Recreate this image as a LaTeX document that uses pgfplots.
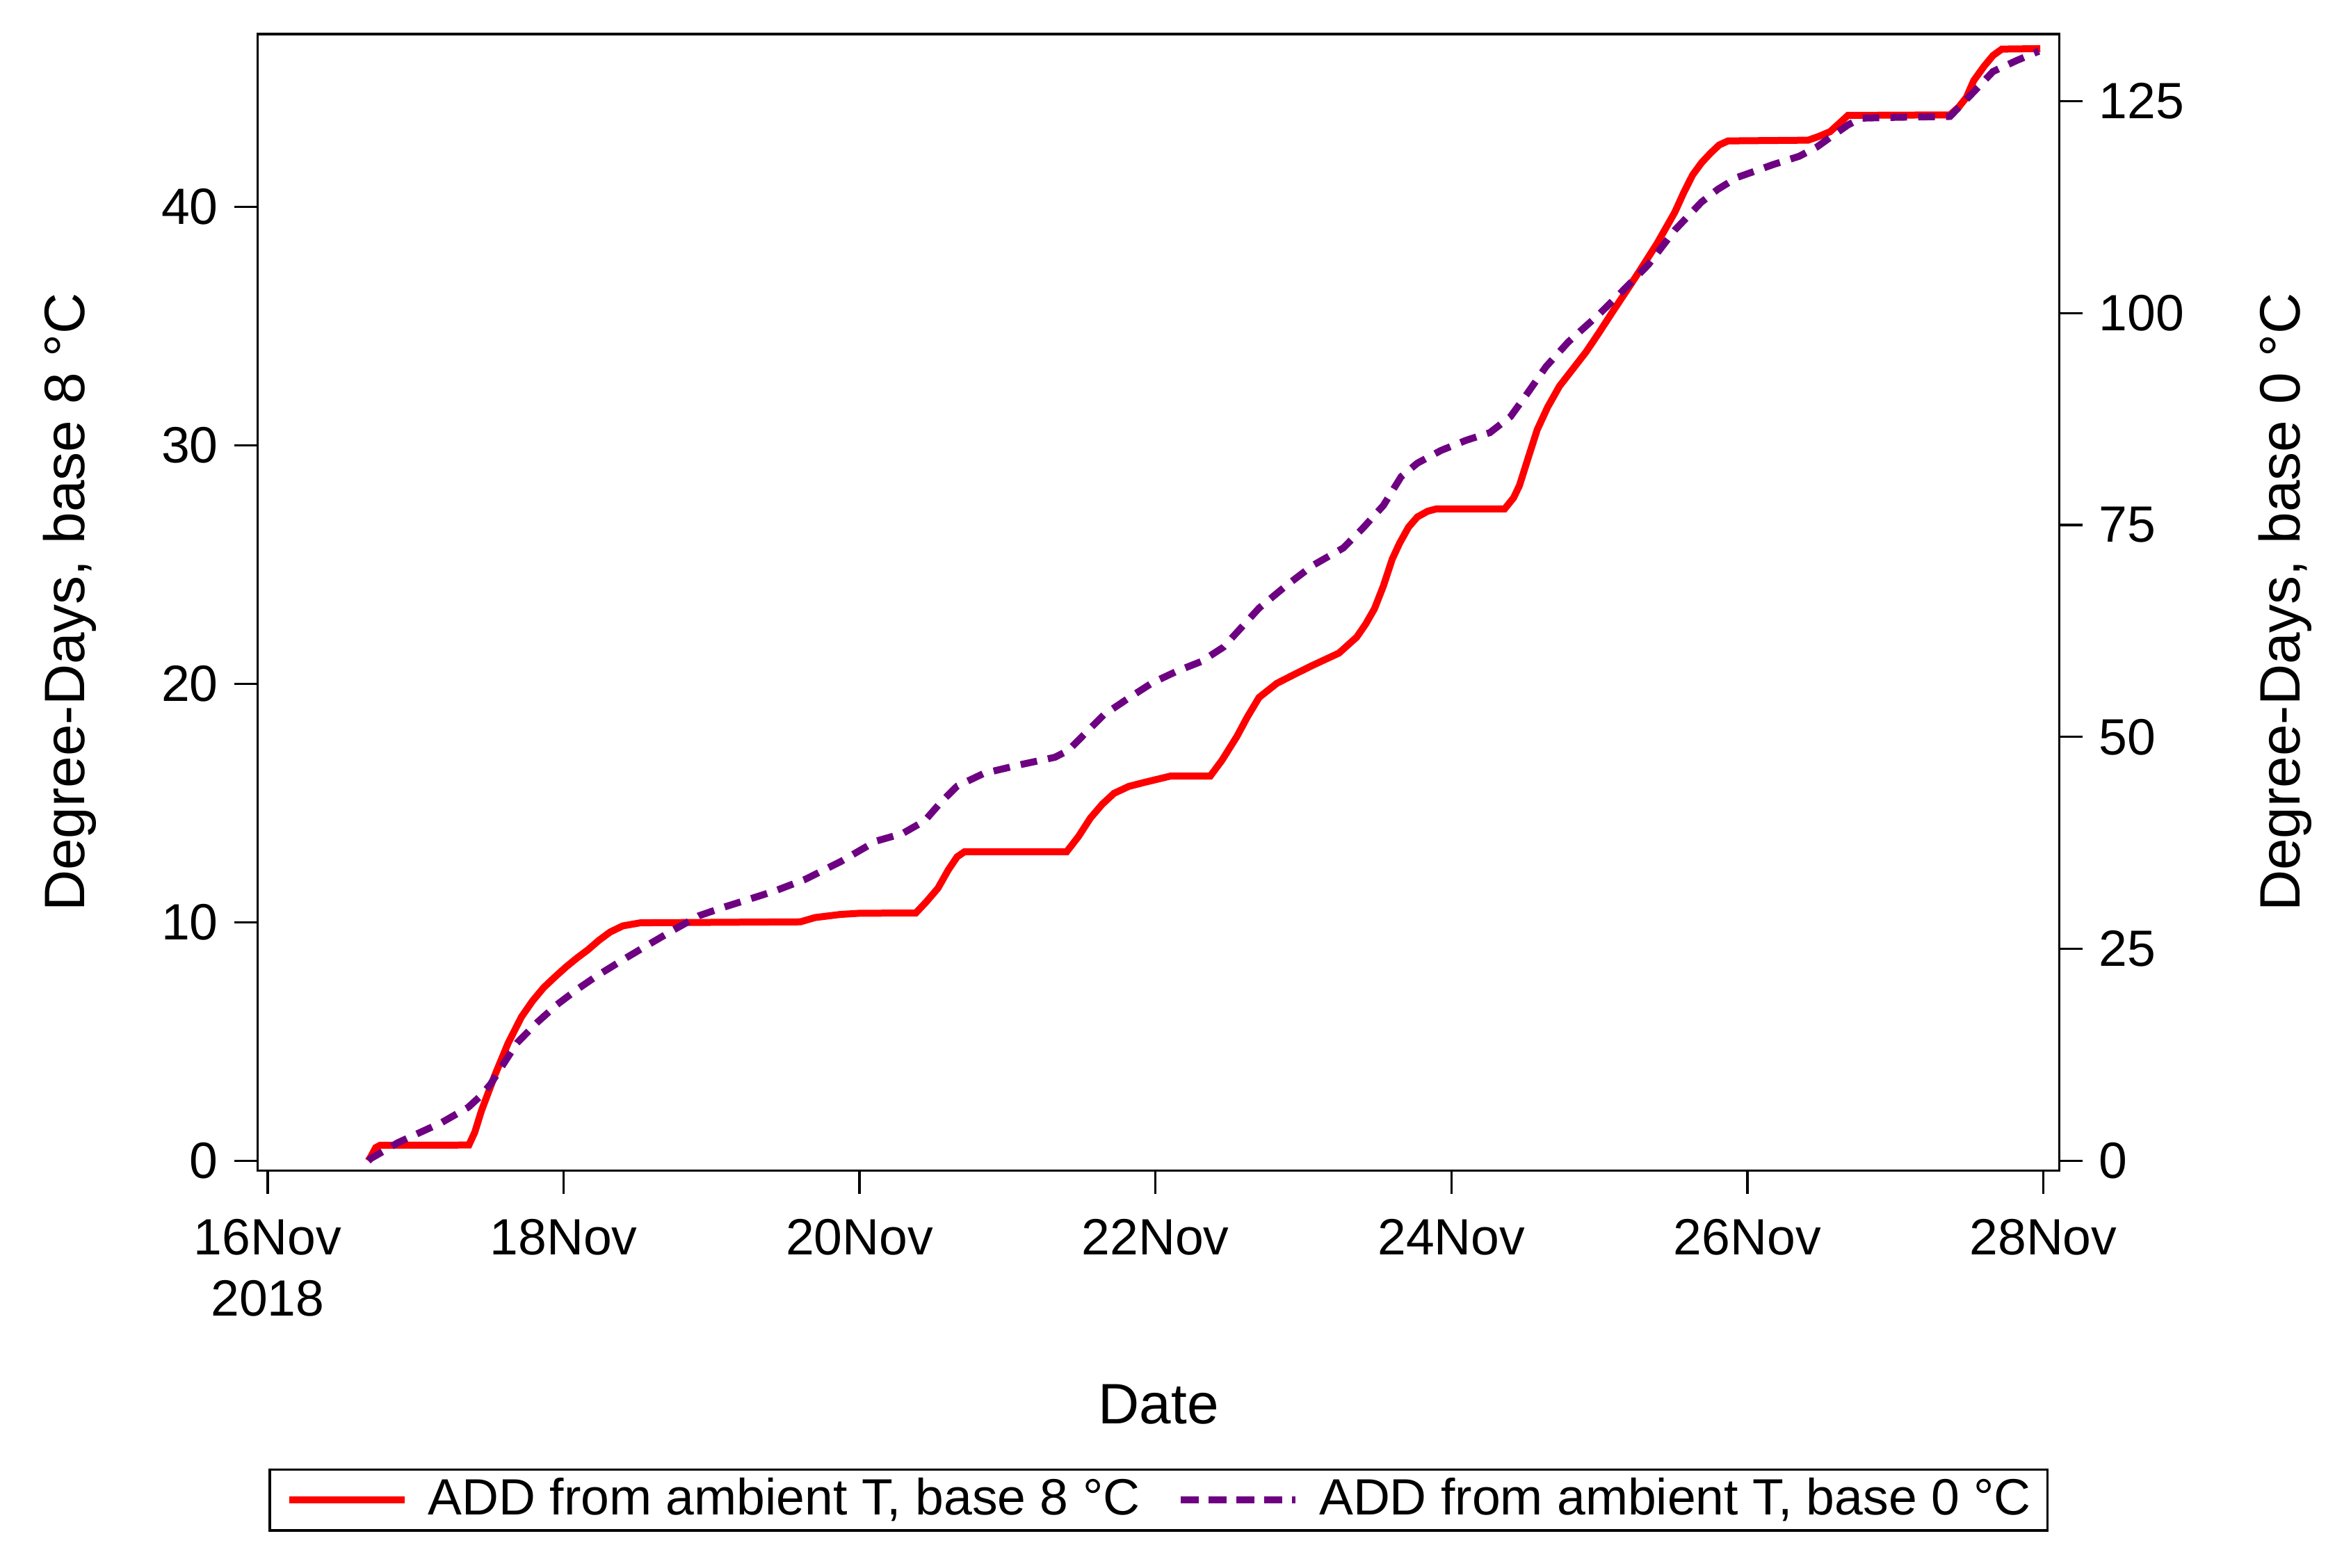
\documentclass[border=0pt]{standalone}
\usepackage{pgfplots}
\pgfplotsset{compat=1.18}
\usepackage{pgfplotstable}
\usepackage{fontspec}
\setmainfont{Liberation Sans}
\definecolor{ddpurple}{RGB}{110,0,130}
\definecolor{ddred}{RGB}{255,0,0}

% ADD, base 8 C (left axis)
\pgfplotstableread{
day val
16.68 0
16.70 0.2
16.73 0.55
16.76 0.65
17.36 0.66
17.40 1.2
17.445 2.1
17.535 3.58
17.625 4.93
17.715 6.03
17.79 6.7
17.865 7.26
17.94 7.7
18.015 8.12
18.09 8.5
18.165 8.85
18.24 9.25
18.314 9.59
18.40 9.85
18.52 9.98
19.60 10.02
19.70 10.2
19.87 10.33
20.00 10.38
20.38 10.39
20.45 10.85
20.53 11.43
20.60 12.2
20.66 12.75
20.71 12.96
21.40 12.96
21.48 13.6
21.56 14.37
21.64 14.95
21.72 15.41
21.82 15.7
21.92 15.86
22.10 16.13
22.37 16.13
22.45 16.8
22.55 17.79
22.62 18.6
22.70 19.43
22.82 20.02
22.94 20.4
23.06 20.77
23.24 21.29
23.36 21.96
23.42 22.5
23.48 23.15
23.54 24.1
23.60 25.23
23.65 25.9
23.71 26.57
23.77 27.0
23.84 27.24
23.90 27.34
24.36 27.34
24.42 27.8
24.46 28.32
24.52 29.5
24.58 30.66
24.65 31.6
24.73 32.48
24.82 33.2
24.91 33.92
25.00 34.75
25.09 35.61
25.18 36.45
25.27 37.3
25.39 38.47
25.51 39.78
25.57 40.6
25.63 41.34
25.69 41.85
25.75 42.25
25.81 42.6
25.87 42.77
26.41 42.8
26.48 42.95
26.56 43.16
26.62 43.5
26.68 43.84
27.37 43.86
27.43 44.2
27.48 44.59
27.53 45.3
27.60 45.9
27.66 46.35
27.72 46.62
27.98 46.64
}\redtab

% ADD, base 0 C (right axis)
\pgfplotstableread{
day val
16.68 0
16.70 0.3
16.80 1.3
16.876 2.1
17.00 3.1
17.175 4.5
17.355 6.3
17.43 7.5
17.505 9.0
17.60 11.6
17.685 13.9
17.82 16.3
17.954 18.4
18.09 20.2
18.224 21.8
18.40 23.7
18.554 25.3
18.73 27.1
18.914 28.9
19.08 29.9
19.244 30.8
19.423 31.8
19.633 33.2
19.873 35.3
20.11 37.7
20.29 38.6
20.44 40.1
20.55 42.3
20.66 44.2
20.84 45.7
21.08 46.7
21.32 47.6
21.41 48.4
21.53 50.5
21.65 52.6
21.82 54.6
21.98 56.4
22.15 57.8
22.31 58.9
22.46 60.6
22.58 62.9
22.70 65.2
22.88 67.8
23.06 70.2
23.27 72.3
23.40 74.6
23.54 77.3
23.66 80.7
23.77 82.3
23.93 83.8
24.10 85.0
24.26 85.9
24.40 87.8
24.52 90.7
24.64 93.7
24.79 96.6
25.00 99.9
25.15 102.5
25.33 105.7
25.51 109.8
25.69 113.1
25.80 114.6
25.93 116.0
26.06 116.8
26.17 117.5
26.35 118.5
26.47 119.6
26.59 121.1
26.68 122.2
26.77 123.0
27.00 123.1
27.37 123.2
27.48 125.2
27.53 126.1
27.66 128.5
27.82 129.8
27.97 130.9
}\purpletab

\begin{document}
\begin{tikzpicture}
\path[use as bounding box] (0,0) rectangle (507.15pt,338.1pt);
\pgfplotsset{
  common/.style={
    at={(55.6pt,85.6pt)}, anchor=south west,
    scale only axis, width=388.65pt, height=245.15pt,
    xmin=15.933, xmax=28.109,
    /pgf/number format/assume math mode=true,
    tick align=outside, major tick length=5pt,
    every tick/.style={black, line width=0.5pt},
    axis line style={black, line width=0.5pt},
    ticklabel style={font=\fontsize{11}{13.2}\selectfont},
    every axis y label/.style={rotate=90, anchor=base, font=\fontsize{12.3}{14.5}\selectfont},
    every axis x label/.style={anchor=base, font=\fontsize{12.3}{14.5}\selectfont},
  }
}
\begin{axis}[common,
  ymin=-0.408, ymax=47.25,
  ytick={0,10,20,30,40},
  xtick={16,18,20,22,24,26,28},
  xticklabels={16Nov\\2018,18Nov,20Nov,22Nov,24Nov,26Nov,28Nov},
  xticklabel style={align=center, yshift=-2pt},
  xtick pos=bottom, ytick pos=left,
  xlabel={Date},
  ylabel={Degree-Days, base 8 °C},
  xlabel style={at={(axis description cs:0.5,-0.2231)}},
  ylabel style={at={(axis description cs:-0.0961,0.5)}},
  legend columns=2,
  legend image code/.code={\draw[#1] (0pt,0pt) -- (24.8pt,0pt);},
  legend style={at={(0.5,-0.29)}, anchor=center, draw=black, line width=0.5pt,
    inner xsep=3.5pt, inner ysep=1.8pt,
    font=\fontsize{11}{13.2}\selectfont,
    column sep=4.35pt,
    /tikz/every even column/.append style={column sep=8pt},
    nodes={inner sep=0pt}},
]
\addplot[ddred, line width=1.5pt] table[x=day,y=val]{\redtab};
\addlegendentry{ADD from ambient T, base 8 °C}
\addlegendimage{ddpurple, line width=1.5pt, dash pattern=on 4pt off 2pt}
\addlegendentry{ADD from ambient T, base 0 °C}
\end{axis}
\begin{axis}[common,
  axis x line=none, axis y line*=right,
  ymin=-1.148, ymax=132.92,
  ytick={0,25,50,75,100,125},
  ylabel={Degree-Days, base 0 °C},
  ylabel style={at={(axis description cs:1.1333,0.5)}},
]
\addplot[ddpurple, line width=1.5pt, dash pattern=on 3.6pt off 2.4pt] table[x=day,y=val]{\purpletab};
\end{axis}
\end{tikzpicture}
\end{document}
